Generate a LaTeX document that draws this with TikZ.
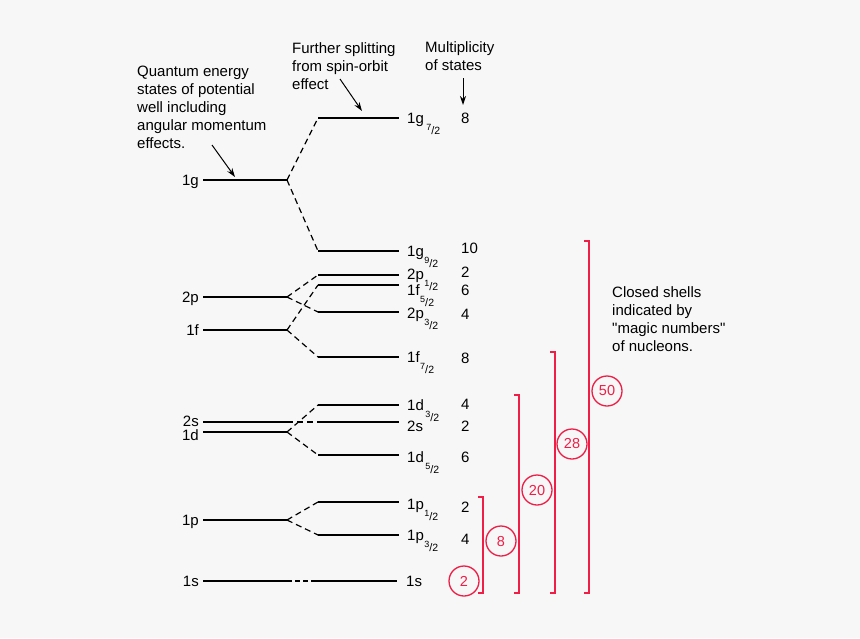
\documentclass[tikz,border=0pt]{standalone}
\usepackage{fontspec}
\setmainfont{Liberation Sans}
\usetikzlibrary{arrows.meta}
\definecolor{magicred}{RGB}{238,30,70}
\definecolor{paper}{RGB}{247,247,247}
% small j = n/2 subscript
\newcommand{\hj}[1]{\kern0.5pt\raisebox{-11pt}{\fontsize{10.5}{10.5}\selectfont\raisebox{3.8pt}{\fontsize{9}{9}\selectfont#1}\fontsize{11}{11}\selectfont/\fontsize{10.5}{10.5}\selectfont 2}}
\begin{document}
\begin{tikzpicture}[x=1pt,y=-1pt,
    level/.style={line width=1.4pt},
    split/.style={line width=1.2pt, dash pattern=on 6pt off 4pt},
    lab/.style={inner sep=0pt, font=\fontsize{15}{18}\selectfont},
    note/.style={inner sep=0pt, align=left, anchor=north west, font=\fontsize{15}{18}\selectfont},
    pointer/.style={-{Stealth[length=9pt,width=6pt]}, line width=1pt},
    shell/.style={magicred, line width=1.3pt},
    magic/.style={circle, draw=magicred, text=magicred, line width=1.3pt, minimum size=30pt, inner sep=0pt, font=\fontsize{14.5}{17}\selectfont}]
        \fill[paper] (0,0) rectangle (860,638);

        % unsplit levels of the well
        \foreach \n/\y in {g/180, pB/297, f/330, sB/422, d/432, p/520, s/581} {
            \coordinate (\n-a) at (203,\y);
            \coordinate (\n-b) at (287,\y);
            \draw[level] (\n-a) -- (\n-b);
        }
        \node[lab, anchor=base east] (g-lab) at (199,185) {1g};
        \node[lab, anchor=base east] (pB-lab) at (199,302) {2p};
        \node[lab, anchor=base east] (f-lab) at (199,335) {1f};
        \node[lab, anchor=base east] (sB-lab) at (199,426) {2s};
        \node[lab, anchor=base east] (d-lab) at (199,440) {1d};
        \node[lab, anchor=base east] (p-lab) at (199,525) {1p};
        \node[lab, anchor=base east] (s-lab) at (199,586) {1s};

        % spin-orbit levels
        \foreach \n/\y in {g7/118, g9/251, pB1/275, f5/285, pB3/312, f7/357, d3/405, sBj/422, d5/455, p1/502, p3/535} {
            \coordinate (\n-a) at (318,\y);
            \coordinate (\n-b) at (399,\y);
            \draw[level] (\n-a) -- (\n-b);
        }
        \coordinate (sj-a) at (311,581);
        \coordinate (sj-b) at (397,581);
        \draw[level] (sj-a) -- (sj-b);

        \node[lab, anchor=base west] (g7-lab) at (407,123) {1g\kern2pt\hj{7}};
        \node[lab, anchor=base west] (g9-lab) at (407,256) {1g\hj{9}};
        \node[lab, anchor=base west] (pB1-lab) at (407,279) {2p\hj{1}};
        \node[lab, anchor=base west] (f5-lab) at (407,295) {1f\hj{5}};
        \node[lab, anchor=base west] (pB3-lab) at (407,318) {2p\hj{3}};
        \node[lab, anchor=base west] (f7-lab) at (407,362) {1f\hj{7}};
        \node[lab, anchor=base west] (d3-lab) at (407,410) {1d\kern1pt\hj{3}};
        \node[lab, anchor=base west] (sBj-lab) at (407,431) {2s};
        \node[lab, anchor=base west] (d5-lab) at (407,462) {1d\kern1pt\hj{5}};
        \node[lab, anchor=base west] (p1-lab) at (407,509) {1p\hj{1}};
        \node[lab, anchor=base west] (p3-lab) at (407,540) {1p\hj{3}};
        \node[lab, anchor=base west] (sj-lab) at (406,586) {1s};

        % splitting
        \draw[split] (g-b) -- (g7-a);
        \draw[split] (g-b) -- (g9-a);
        \draw[split] (pB-b) -- (pB1-a);
        \draw[split] (pB-b) -- (pB3-a);
        \draw[split] (f-b) -- (f5-a);
        \draw[split] (f-b) -- (f7-a);
        \draw[split] (sB-b) -- (sBj-a);
        \draw[split] (d-b) -- (d3-a);
        \draw[split] (d-b) -- (d5-a);
        \draw[split] (p-b) -- (p1-a);
        \draw[split] (p-b) -- (p3-a);
        \draw[split, dash pattern=on 5pt off 3pt] (s-b) -- (sj-a);

        % multiplicity
        \foreach \n/\y/\m in {g7/123/8, g9/253/10, pB1/277/2, f5/295/6, pB3/319/4, f7/363/8, d3/409/4, sBj/431/2, d5/462/6, p1/512/2, p3/544/4} {
            \node[lab, anchor=base west] (\n-m) at (461,\y) {\m};
        }

        % closed shells
        \draw[shell] (478,497) -- (483,497) -- (483,593) -- (478,593);
        \draw[shell] (514,395) -- (519,395) -- (519,593) -- (514,593);
        \draw[shell] (550,352) -- (555,352) -- (555,593) -- (550,593);
        \draw[shell] (584,241) -- (589,241) -- (589,593) -- (584,593);
        \node[magic] (m2) at (464,581) {2};
        \node[magic] (m8) at (501,541) {8};
        \node[magic] (m20) at (537,490) {20};
        \node[magic] (m28) at (572,444) {28};
        \node[magic] (m50) at (607,391) {50};

        % notes
        \node[note] (well) at (137,66) {Quantum energy\\states of potential\\well including\\angular momentum\\effects.};
        \node[note] (spin) at (292,42) {Further splitting\\from spin-orbit\\effect};
        \node[note] (mult) at (425,41) {Multiplicity\\of states};
        \node[note] (shells) at (612,286) {Closed shells\\indicated by\\\textquotedbl magic numbers\textquotedbl\\of nucleons.};

        \coordinate (well-tip) at (235,177);
        \coordinate (spin-tip) at (362,111);
        \coordinate (mult-tip) at (463,105);
        \draw[pointer] (212,145) -- (well-tip);
        \draw[pointer] (340,79) -- (spin-tip);
        \draw[pointer] (463,78) -- (mult-tip);
\end{tikzpicture}
\end{document}
